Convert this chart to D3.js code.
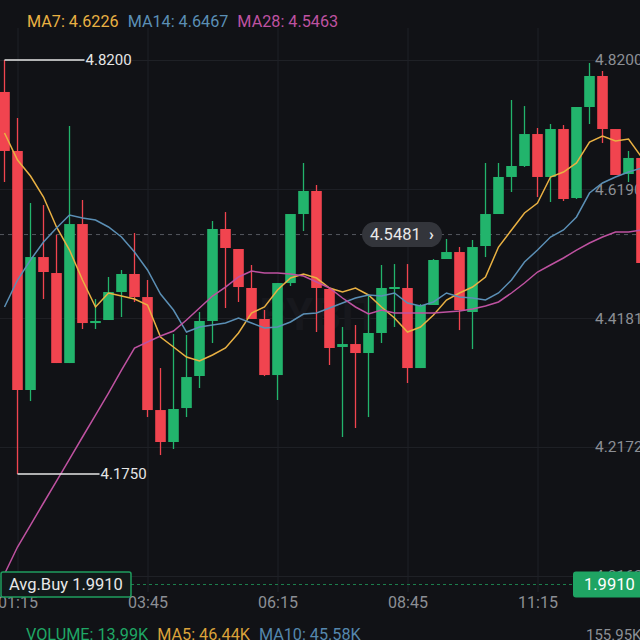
<!DOCTYPE html>
<html>
<head>
<meta charset="utf-8">
<script src="https://cdn.jsdelivr.net/npm/d3@7"></script>
<style>
  html, body { margin: 0; padding: 0; background: #111216; }
  svg { display: block; font-family: Roboto, "Noto Sans", sans-serif; }
</style>
</head>
<body>
<div id="chart"></div>
<script>
// 15 minute candles, first one at 01:00
const firstTime = "01:00";
const stepMinutes = 15;

const opens  = [4.7702,4.6783,4.3060,4.5131,4.4882,4.3480,4.5645,4.4103,4.4150,4.4586,
                4.4867,4.4508,4.2748,4.2250,4.2779,4.3278,4.4135,4.5568,4.5256,4.4649,
                4.4166,4.3293,4.4726,4.5801,4.6160,4.4633,4.3730,4.3776,4.3636,4.3948,
                4.4633,4.4649,4.3402,4.4384,4.5100,4.5209,4.4275,4.5303,4.5801,4.6378,
                4.6549,4.7047,4.6378,4.7125,4.6050,4.7468,4.7951,4.7125,4.6424,4.6674];
const highs  = [4.8200,4.7297,4.5973,4.5941,4.5474,4.7172,4.6019,4.4477,4.4820,4.4929,
                4.5505,4.4773,4.3402,4.3932,4.3917,4.4275,4.5692,4.5832,4.5256,4.5007,
                4.4306,4.4726,4.5801,4.6596,4.6253,4.4649,4.4041,4.4072,4.4540,4.5007,
                4.5022,4.5022,4.4399,4.5100,4.5412,4.5287,4.5396,4.6596,4.6596,4.7577,
                4.7483,4.7141,4.7203,4.7187,4.7468,4.8153,4.8029,4.7125,4.6783,4.6674];
const lows   = [4.6300,4.1750,4.2888,4.4477,4.3480,4.3480,4.4010,4.4010,4.4150,4.4197,
                4.4431,4.2639,4.2047,4.2141,4.2639,4.3091,4.3792,4.4337,4.4431,4.4166,
                4.3277,4.2904,4.4680,4.5536,4.3963,4.3449,4.2328,4.2468,4.2639,4.3792,
                4.4041,4.3169,4.3402,4.4384,4.5100,4.3994,4.3698,4.5131,4.5801,4.6144,
                4.6533,4.6066,4.5988,4.6004,4.6035,4.7203,4.6907,4.6409,4.6300,4.4353];
const closes = [4.6783,4.3060,4.5131,4.4898,4.3480,4.5645,4.4103,4.4135,4.4586,4.4867,
                4.4508,4.2748,4.2250,4.2764,4.3262,4.4135,4.5568,4.5272,4.4664,4.4166,
                4.3293,4.4726,4.5801,4.6160,4.4649,4.3714,4.3776,4.3636,4.3948,4.4649,
                4.4664,4.3402,4.4384,4.5085,4.5209,4.4306,4.5287,4.5801,4.6378,4.6549,
                4.7047,4.6378,4.7125,4.6035,4.7468,4.7951,4.7125,4.6409,4.6674,4.5038];

const ma7  = [4.7063,4.6642,4.6393,4.6066,4.5599,4.5240,4.4773,4.4353,4.4571,4.4524,
              4.4477,4.4384,4.3885,4.3730,4.3574,4.3512,4.3605,4.3714,4.3948,4.4259,
              4.4353,4.4617,4.4804,4.4867,4.4804,4.4649,4.4586,4.4649,4.4540,4.4353,
              4.4181,4.3963,4.4041,4.4228,4.4462,4.4571,4.4664,4.4820,4.5287,4.5552,
              4.5817,4.5973,4.6378,4.6455,4.6596,4.6923,4.7016,4.6938,4.6969,4.6689];
const ma14 = [4.4353,4.4773,4.5085,4.5365,4.5583,4.5786,4.5739,4.5708,4.5599,4.5443,
              4.5209,4.4929,4.4555,4.4306,4.3963,4.4041,4.4072,4.4103,4.4181,4.4103,
              4.4026,4.4041,4.4119,4.4244,4.4259,4.4337,4.4415,4.4493,4.4540,4.4524,
              4.4571,4.4415,4.4368,4.4431,4.4571,4.4508,4.4493,4.4462,4.4571,4.4773,
              4.5054,4.5240,4.5443,4.5552,4.5755,4.6128,4.6284,4.6378,4.6455,4.6518];
const ma28 = [4.0194,4.0614,4.0957,4.1300,4.1642,4.1985,4.2328,4.2670,4.3013,4.3371,
              4.3714,4.3807,4.3901,4.3979,4.4150,4.4337,4.4524,4.4664,4.4820,4.4913,
              4.4882,4.4882,4.4867,4.4836,4.4742,4.4649,4.4493,4.4353,4.4244,4.4306,
              4.4259,4.4259,4.4259,4.4259,4.4275,4.4290,4.4321,4.4368,4.4431,4.4571,
              4.4726,4.4898,4.5007,4.5116,4.5240,4.5350,4.5443,4.5521,4.5521,4.5552];

const priceTicks = [4.8200, 4.6190, 4.4181, 4.2172, 4.0163];
const timeTicks = ["01:15", "03:45", "06:15", "08:45", "11:15"];
const lastPrice = 4.5481;
const avgBuy = 1.9910;

const maNames  = ["MA7", "MA14", "MA28"];
const maLatest = ["4.6226", "4.6467", "4.5463"];
const maColors = ["#e9b143", "#5b8fb5", "#bf52a1"];

const volNames  = ["VOLUME", "MA5", "MA10"];
const volLatest = ["13.99K", "46.44K", "45.58K"];
const volColors = ["#1fa765", "#dca23a", "#5587ad"];
const volAxisMax = "155.95K";

const W = 640, H = 640;
const green = "#22b46c", red = "#f1444f";

const parseHM = d3.timeParse("%H:%M");
const t0 = parseHM(firstTime);
const times = closes.map((c, i) => d3.timeMinute.offset(t0, i * stepMinutes));

const x = d3.scaleTime().domain([times[0], times[times.length - 1]]).range([4.5, 641.5]);
const y = d3.scaleLinear().domain([4.0163, 4.82]).range([576, 60]);

const svg = d3.select("#chart").append("svg")
  .attr("width", W).attr("height", H);

svg.append("rect").attr("width", W).attr("height", H).attr("fill", "#111216");

// grid + price labels
const yAxis = svg.append("g")
  .call(d3.axisRight(y).tickValues(priceTicks).tickFormat(d3.format(".4f"))
    .tickSize(W).tickPadding(-45));
yAxis.select(".domain").remove();
yAxis.selectAll("line").attr("stroke", "#1f2126");
yAxis.selectAll("text").attr("fill", "#8c8f95").attr("font-size", 15.5)
  .attr("font-family", "Roboto, sans-serif");

const xAxis = svg.append("g")
  .attr("transform", "translate(0,592)")
  .call(d3.axisBottom(x).tickValues(timeTicks.map(parseHM))
    .tickFormat(d3.timeFormat("%H:%M")).tickSize(-564).tickPadding(5));
xAxis.select(".domain").remove();
xAxis.selectAll("line").attr("stroke", "#1f2126");
xAxis.selectAll("text").attr("fill", "#8c8f95").attr("font-size", 16)
  .attr("font-family", "Roboto, sans-serif");

// watermark
svg.append("text")
  .attr("x", 320).attr("y", 330)
  .attr("text-anchor", "middle")
  .attr("font-size", 44).attr("font-weight", 700)
  .attr("fill", "#17181d")
  .text("BYBIT");

// last price dashed line
svg.append("line")
  .attr("x1", 0).attr("x2", W)
  .attr("y1", y(lastPrice)).attr("y2", y(lastPrice))
  .attr("stroke", "#55585f").attr("stroke-dasharray", "4,4");

// candles
const bodyW = 10.6;
const candles = svg.append("g").selectAll("g")
  .data(closes.map((c, i) => ({ t: times[i], o: opens[i], h: highs[i], l: lows[i], c: c })))
  .enter().append("g");

candles.append("line")
  .attr("x1", d => x(d.t)).attr("x2", d => x(d.t))
  .attr("y1", d => y(d.h)).attr("y2", d => y(d.l))
  .attr("stroke", d => d.c >= d.o ? green : red)
  .attr("stroke-width", 1.3);

candles.append("rect")
  .attr("x", d => x(d.t) - bodyW / 2)
  .attr("width", bodyW)
  .attr("y", d => y(Math.max(d.o, d.c)))
  .attr("height", d => Math.max(1.5, Math.abs(y(d.o) - y(d.c))))
  .attr("fill", d => d.c >= d.o ? green : red);

// moving averages
const maSeries = [ma7, ma14, ma28];
const line = d3.line().x((d, i) => x(times[i])).y(d => y(d));
maSeries.forEach((s, k) => {
  svg.append("path")
    .attr("d", line(s))
    .attr("fill", "none")
    .attr("stroke", maColors[k])
    .attr("stroke-width", 1.5);
});

// high / low markers
const hiIdx = d3.maxIndex(highs), loIdx = d3.minIndex(lows);
const marks = [
  { t: times[hiIdx], v: highs[hiIdx], len: 80 },
  { t: times[loIdx], v: lows[loIdx], len: 82 }
];
marks.forEach(m => {
  const x0 = x(m.t), y0 = y(m.v);
  svg.append("line")
    .attr("x1", x0).attr("x2", x0 + m.len)
    .attr("y1", y0).attr("y2", y0)
    .attr("stroke", "#e6e6e6").attr("stroke-width", 1.5);
  svg.append("text")
    .attr("x", x0 + m.len + 1).attr("y", y0)
    .attr("dy", "0.35em")
    .attr("font-size", 15).attr("fill", "#e6e6e6")
    .text(d3.format(".4f")(m.v));
});

// last price pill
const pill = svg.append("g").attr("transform", `translate(362,${y(lastPrice)})`);
pill.append("rect")
  .attr("x", 0).attr("y", -12.5).attr("width", 80).attr("height", 25)
  .attr("rx", 12.5).attr("fill", "#33353b");
pill.append("text")
  .attr("x", 8).attr("dy", "0.35em")
  .attr("font-size", 16.5).attr("fill", "#e8e8e8")
  .text(d3.format(".4f")(lastPrice));
pill.append("text")
  .attr("x", 67).attr("dy", "0.33em")
  .attr("font-size", 16).attr("font-weight", 700).attr("fill", "#e8e8e8")
  .text("›");

// avg buy line (off scale, pinned to the bottom)
const avgY = 584.5;
svg.append("line")
  .attr("x1", 131).attr("x2", 573)
  .attr("y1", avgY).attr("y2", avgY)
  .attr("stroke", "#1c7e4c").attr("stroke-dasharray", "3,3");
svg.append("rect")
  .attr("x", 1).attr("y", avgY - 12.5).attr("width", 130).attr("height", 25)
  .attr("rx", 2).attr("fill", "#12191a")
  .attr("stroke", "#1f9f5f").attr("stroke-width", 1.5);
svg.append("text")
  .attr("x", 9).attr("y", avgY).attr("dy", "0.35em")
  .attr("font-size", 16.5).attr("fill", "#e8e8e8")
  .text("Avg.Buy " + d3.format(".4f")(avgBuy));
svg.append("rect")
  .attr("x", 573).attr("y", avgY - 13).attr("width", 70).attr("height", 26)
  .attr("rx", 3).attr("fill", "#1fa463");
svg.append("text")
  .attr("x", 584).attr("y", avgY).attr("dy", "0.35em")
  .attr("font-size", 16.5).attr("fill", "#ffffff")
  .text(d3.format(".4f")(avgBuy));

// legends
function legendRow(names, vals, colors, x0, yb) {
  let cx = x0;
  names.forEach((n, i) => {
    const t = svg.append("text")
      .attr("x", cx).attr("y", yb)
      .attr("font-size", 16.2).attr("fill", colors[i])
      .text(n + ": " + vals[i]);
    cx += t.node().getComputedTextLength() + 9;
  });
}
legendRow(maNames, maLatest, maColors, 27, 27);
legendRow(volNames, volLatest, volColors, 26, 640);

svg.append("text")
  .attr("x", 586).attr("y", 640)
  .attr("font-size", 15).attr("fill", "#8c8f95")
  .text(volAxisMax);
</script>
</body>
</html>
